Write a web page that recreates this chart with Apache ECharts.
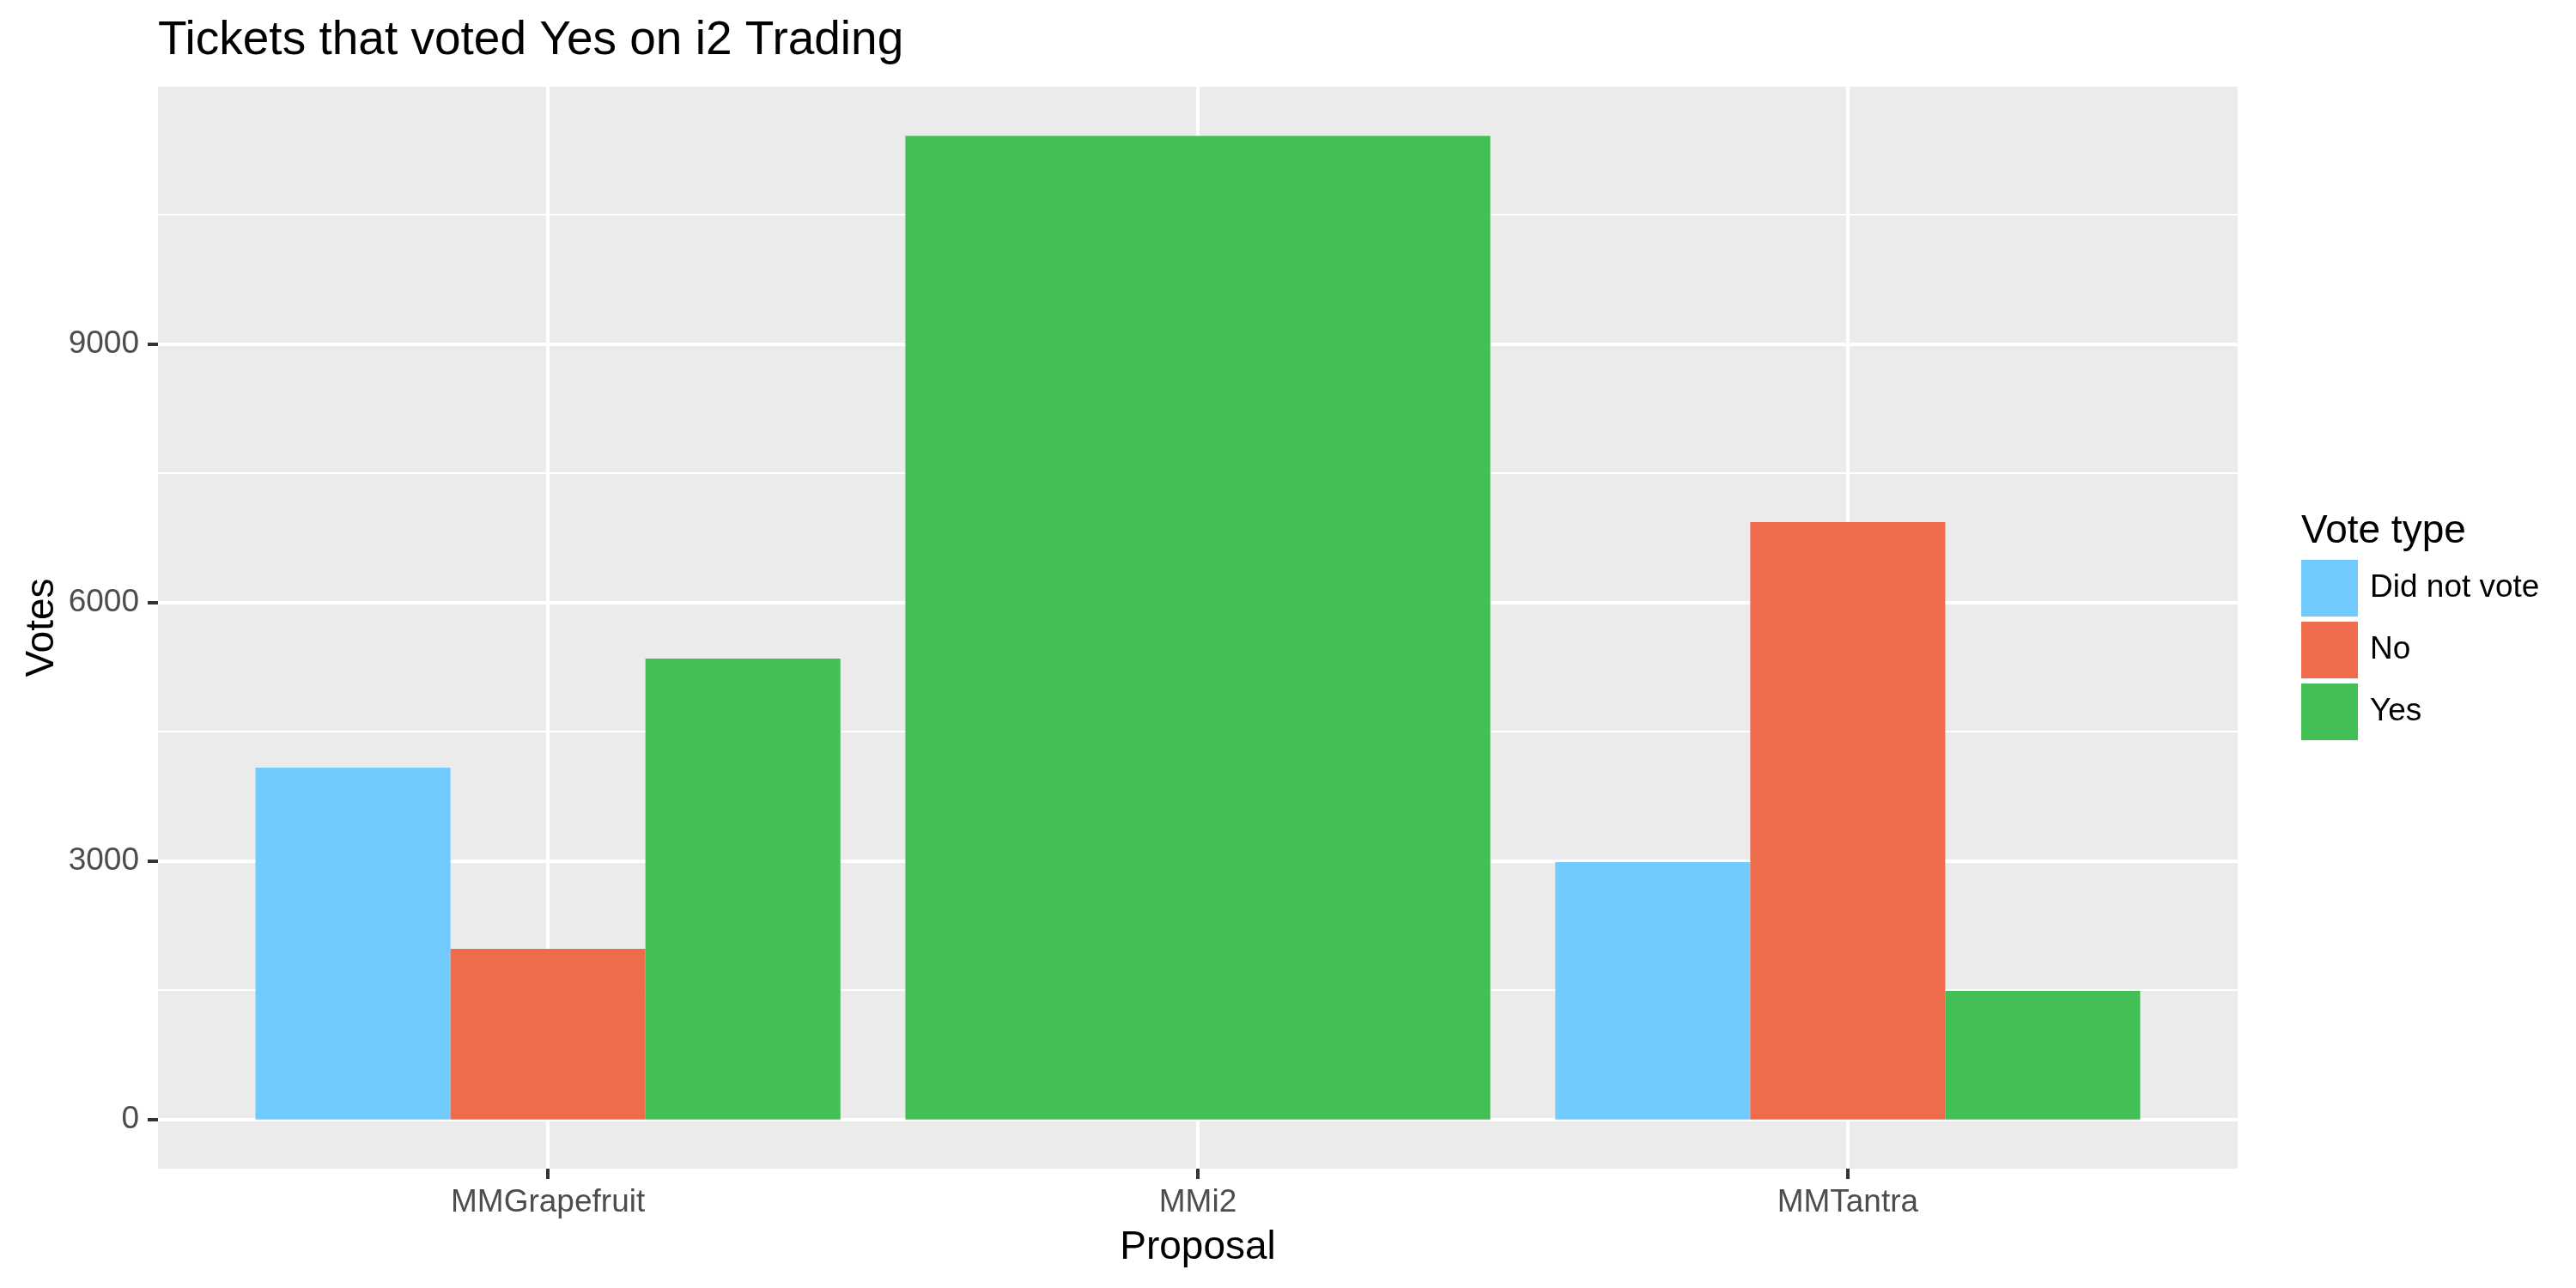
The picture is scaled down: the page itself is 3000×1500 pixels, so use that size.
<!DOCTYPE html>
<html>
<head>
<meta charset="utf-8">
<script src="https://cdn.jsdelivr.net/npm/echarts@6/dist/echarts.min.js"></script>
<style>
html,body{margin:0;padding:0;background:#fff;}
#chart{width:3000px;height:1500px;}
</style>
</head>
<body>
<div id="chart"></div>
<script>
// ---- data ----
const categories = ['MMGrapefruit', 'MMi2', 'MMTantra'];
const seriesNames = ['Did not vote', 'No', 'Yes'];
const didNotVote = [4083, null, 2987];
const noVotes = [1980, null, 6933];
const yesVotes = [5349, 11416, 1492];
const yTicks = [0, 3000, 6000, 9000];
const colors = ['#71CBFF', '#EE6C4B', '#42BF55'];

// ---- layout ----
const FONT = 'Liberation Sans, Arial, sans-serif';
const panelLeft = 184, panelRight = 2606, panelTop = 101, panelBottom = 1361;
const panelW = panelRight - panelLeft, panelH = panelBottom - panelTop;
const allVals = [didNotVote, noVotes, yesVotes];
const maxVal = Math.max(...allVals.flat().filter(v => v != null));
const yMin = -0.05 * maxVal, yMax = 1.05 * maxVal;
const zeroY = panelBottom - panelH * (0 - yMin) / (yMax - yMin);
const unit = panelW / (categories.length + 0.2);
const bandLeft = panelLeft + 0.1 * unit;
const bandW = unit * categories.length;

// categories where only one group has a value -> full-width bar (ggplot dodge)
const soloIdx = categories.map((c, i) => allVals.filter(a => a[i] != null).length === 1);
const normalData = allVals.map(arr => arr.map((v, i) => soloIdx[i] ? null : v));
const soloData = categories.map((c, i) => {
  if (!soloIdx[i]) return null;
  const k = allVals.findIndex(a => a[i] != null);
  return { value: allVals[k][i], itemStyle: { color: colors[k] } };
});
const soloName = seriesNames[allVals.findIndex((a, k) => a.some((v, i) => soloIdx[i] && v != null))] || 'Yes';

const chart = echarts.init(document.getElementById('chart'), null, { renderer: 'canvas' });
const option = {
  backgroundColor: '#FFFFFF',
  animation: false,
  textStyle: { fontFamily: FONT },
  title: [
    { text: 'Tickets that voted Yes on i2 Trading', left: panelLeft, top: 20, padding: 0,
      textStyle: { fontSize: 55, fontWeight: 'normal', color: '#000', fontFamily: FONT } },
    { text: 'Vote type', left: 2680, top: 596, padding: 0,
      textStyle: { fontSize: 46, fontWeight: 'normal', color: '#000', fontFamily: FONT } }
  ],
  legend: {
    orient: 'vertical', left: 2680, top: 652, padding: 0,
    itemWidth: 66, itemHeight: 66, itemGap: 6, icon: 'rect',
    data: seriesNames,
    textStyle: { fontSize: 37, color: '#000', fontFamily: FONT, padding: [10, 0, 0, 9] },
    selectedMode: false
  },
  grid: [
    { left: panelLeft, top: panelTop, width: panelW, height: panelH, show: true,
      backgroundColor: '#EBEBEB', borderWidth: 0, containLabel: false },
    { left: panelLeft, top: panelTop, width: panelW, height: zeroY - panelTop, show: false, containLabel: false },
    { left: bandLeft, top: panelTop, width: bandW, height: panelH, show: false, containLabel: false }
  ],
  xAxis: [
    { type: 'value', gridIndex: 0, show: false },
    { type: 'value', gridIndex: 1, show: false },
    { type: 'category', gridIndex: 2, data: categories, position: 'bottom',
      axisLine: { show: false, onZero: false },
      axisTick: { show: true, alignWithLabel: true, length: 12, lineStyle: { color: '#333333', width: 4 } },
      axisLabel: { fontSize: 37, color: '#4D4D4D', margin: 21, fontFamily: FONT },
      splitLine: { show: true, alignWithLabel: true, lineStyle: { color: '#FFFFFF', width: 4 } },
      name: 'Proposal', nameLocation: 'middle', nameGap: 69,
      nameTextStyle: { fontSize: 46, color: '#000', fontFamily: FONT } },
    { type: 'category', gridIndex: 2, data: categories, show: false, axisLine: { onZero: false } }
  ],
  yAxis: [
    { type: 'value', gridIndex: 0, min: 0, max: 1, show: true,
      axisLine: { show: false }, axisTick: { show: false }, axisLabel: { show: false }, splitLine: { show: false },
      name: 'Votes', nameLocation: 'middle', nameGap: 112, nameRotate: 90,
      nameTextStyle: { fontSize: 46, color: '#000', fontFamily: FONT } },
    { type: 'value', gridIndex: 1, min: 0, max: yMax, interval: 3000,
      axisLine: { show: false },
      axisTick: { show: true, length: 12, customValues: yTicks, lineStyle: { color: '#333333', width: 4 } },
      axisLabel: { fontSize: 37, color: '#4D4D4D', margin: 22, customValues: yTicks, fontFamily: FONT,
        formatter: v => String(v) },
      splitLine: { show: true, lineStyle: { color: '#FFFFFF', width: 4 } },
      minorTick: { show: false, splitNumber: 2 },
      minorSplitLine: { show: true, lineStyle: { color: '#FFFFFF', width: 2 } } },
    { type: 'value', gridIndex: 2, min: yMin, max: yMax, show: false, splitLine: { show: false } }
  ],
  series: [
    ...seriesNames.map((name, k) => ({
      name: name, type: 'bar', xAxisIndex: 2, yAxisIndex: 2,
      data: normalData[k], barGap: '0%', barCategoryGap: '10%',
      itemStyle: { color: colors[k] }, z: 3
    })),
    { name: soloName, type: 'bar', xAxisIndex: 3, yAxisIndex: 2,
      data: soloData, barCategoryGap: '10%', itemStyle: { color: colors[2] }, z: 3 }
  ]
};
chart.setOption(option);
</script>
</body>
</html>
